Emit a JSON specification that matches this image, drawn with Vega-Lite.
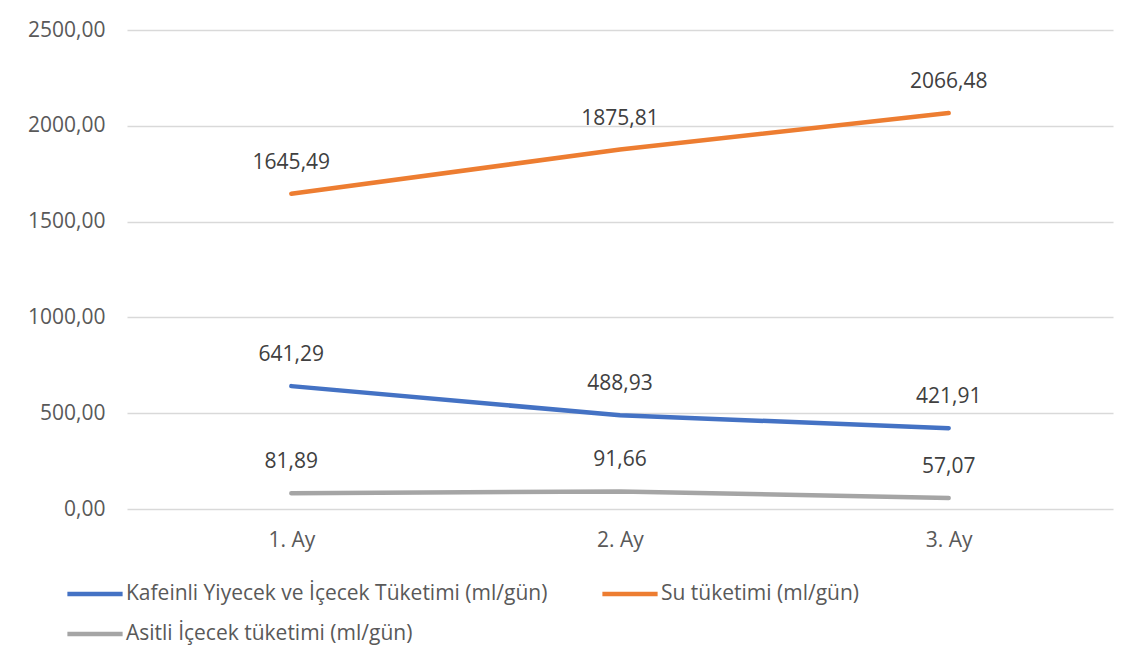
{
  "$schema": "https://vega.github.io/schema/vega-lite/v6.json",
  "width": 986,
  "height": 479,
  "autosize": {"type": "none"},
  "padding": {"left": 127, "top": 30, "right": 30, "bottom": 163},
  "background": "white",
  "config": {
    "locale": {"number": {"decimal": ",", "thousands": ".", "grouping": [3], "currency": ["", ""]}},
    "font": "Open Sans",
    "view": {"stroke": null},
    "axis": {"labelFont": "Open Sans", "labelFontSize": 21, "labelColor": "#595959"}
  },
  "data": {
    "values": [
      {"ay": "1. Ay", "seri": "Kafeinli Yiyecek ve İçecek Tüketimi (ml/gün)", "deger": 641.29},
      {"ay": "2. Ay", "seri": "Kafeinli Yiyecek ve İçecek Tüketimi (ml/gün)", "deger": 488.93},
      {"ay": "3. Ay", "seri": "Kafeinli Yiyecek ve İçecek Tüketimi (ml/gün)", "deger": 421.91},
      {"ay": "1. Ay", "seri": "Su tüketimi (ml/gün)", "deger": 1645.49},
      {"ay": "2. Ay", "seri": "Su tüketimi (ml/gün)", "deger": 1875.81},
      {"ay": "3. Ay", "seri": "Su tüketimi (ml/gün)", "deger": 2066.48},
      {"ay": "1. Ay", "seri": "Asitli İçecek tüketimi (ml/gün)", "deger": 81.89},
      {"ay": "2. Ay", "seri": "Asitli İçecek tüketimi (ml/gün)", "deger": 91.66},
      {"ay": "3. Ay", "seri": "Asitli İçecek tüketimi (ml/gün)", "deger": 57.07}
    ]
  },
  "encoding": {
    "x": {
      "field": "ay", "type": "nominal", "sort": null,
      "scale": {"type": "point", "padding": 0.5},
      "axis": {"title": null, "labelAngle": 0, "ticks": false, "domain": false, "labelPadding": 20, "grid": false}
    },
    "y": {
      "field": "deger", "type": "quantitative",
      "scale": {"domain": [0, 2500], "nice": false},
      "axis": {"title": null, "values": [0, 500, 1000, 1500, 2000, 2500], "format": ".2f", "ticks": false, "domain": false, "labelPadding": 22, "gridColor": "#d9d9d9", "gridWidth": 1.3}
    }
  },
  "layer": [
    {
      "mark": {"type": "line", "strokeWidth": 4.5, "strokeCap": "round"},
      "encoding": {
        "color": {
          "field": "seri", "type": "nominal",
          "scale": {
            "domain": ["Kafeinli Yiyecek ve İçecek Tüketimi (ml/gün)", "Su tüketimi (ml/gün)", "Asitli İçecek tüketimi (ml/gün)"],
            "range": ["#4472C4", "#ED7D31", "#A5A5A5"]
          },
          "legend": {
            "title": null, "orient": "none", "legendX": -62, "legendY": 534,
            "direction": "horizontal", "columns": 2, "columnPadding": 45, "rowPadding": -12,
            "symbolType": "stroke", "symbolSize": 3050, "symbolStrokeWidth": 4.5,
            "labelFont": "Open Sans", "labelFontSize": 21, "labelColor": "#595959", "labelOffset": 1, "labelLimit": 600
          }
        }
      }
    },
    {
      "mark": {"type": "text", "fontSize": 21, "color": "#404040", "baseline": "alphabetic", "dy": -25, "font": "Open Sans"},
      "encoding": {
        "text": {"field": "deger", "type": "quantitative", "format": ".2f"},
        "detail": {"field": "seri"}
      }
    }
  ]
}
